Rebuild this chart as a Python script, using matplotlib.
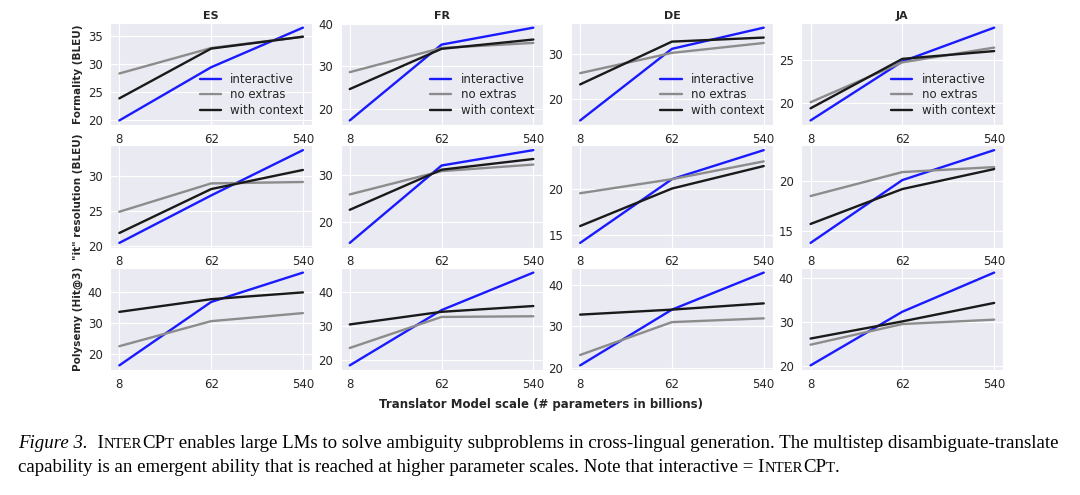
import matplotlib
matplotlib.use("Agg")
import matplotlib.pyplot as plt
import seaborn as sns

sns.set_style("darkgrid")
plt.rcParams['font.family'] = ['DejaVu Sans']

scales = ["8", "62", "540"]
languages = ["ES", "FR", "DE", "JA"]
metrics = ["Formality (BLEU)", '"it" resolution (BLEU)', "Polysemy (Hit@3)"]
series = ["interactive", "no extras", "with context"]
colors = {"interactive": "#1a1aff", "no extras": "#8c8c8c", "with context": "#1a1a1a"}

# values per metric -> series -> language (ES, FR, DE, JA), each at scales 8/62/540
formality = {
    "interactive":  [[20.0, 29.4, 36.4], [17.2, 35.1, 39.1], [15.2, 31.1, 35.8], [18.0, 24.8, 28.7]],
    "no extras":    [[28.3, 32.8, 34.8], [28.6, 34.3, 35.5], [25.7, 30.2, 32.4], [20.1, 24.7, 26.4]],
    "with context": [[23.9, 32.7, 34.8], [24.6, 34.1, 36.3], [23.2, 32.7, 33.6], [19.4, 25.1, 26.0]],
}
it_resolution = {
    "interactive":  [[20.5, 27.2, 33.6], [15.5, 32.1, 35.4], [14.2, 21.0, 24.1], [13.8, 20.1, 23.1]],
    "no extras":    [[24.9, 28.9, 29.1], [25.9, 30.9, 32.3], [19.5, 21.0, 22.9], [18.5, 20.9, 21.4]],
    "with context": [[21.9, 28.1, 30.8], [22.6, 31.2, 33.5], [16.0, 20.0, 22.4], [15.7, 19.2, 21.2]],
}
polysemy = {
    "interactive":  [[16.2, 36.7, 46.2], [18.5, 34.7, 45.7], [20.6, 34.0, 42.9], [20.1, 32.3, 41.2]],
    "no extras":    [[22.4, 30.5, 33.1], [23.6, 32.7, 32.9], [23.1, 31.0, 31.9], [24.8, 29.5, 30.5]],
    "with context": [[33.5, 37.6, 39.8], [30.5, 34.2, 35.9], [32.8, 34.0, 35.5], [26.2, 30.1, 34.3]],
}
all_data = [formality, it_resolution, polysemy]

fig, axes = plt.subplots(3, 4, figsize=(10.8, 4.95), dpi=100)
fig.subplots_adjust(left=0.102, right=0.929, top=0.9535, bottom=0.2525,
                    wspace=0.141, hspace=0.2)

for r, data in enumerate(all_data):
    for c, lang in enumerate(languages):
        ax = axes[r, c]
        for s in series:
            ax.plot(scales, data[s][c], color=colors[s], lw=1.7, label=s)
        ax.tick_params(labelsize=8.5, pad=2)
        if r == 0:
            ax.set_title(lang, fontsize=8, fontweight='bold', pad=3)
            ax.legend(loc='lower right', frameon=False, fontsize=8.5,
                      handlelength=1.8, labelspacing=0.2, borderaxespad=0.3)
        if c == 0:
            ax.set_ylabel(metrics[r], fontsize=7.5, fontweight='bold', labelpad=3)

fig.text(0.501, 0.182, "Translator Model scale (# parameters in billions)",
         ha='center', va='center', fontsize=8.5, fontweight='bold', color='.15')

# caption with small caps pieces
fig.canvas.draw()
renderer = fig.canvas.get_renderer()
big = 13.6
small = big * 0.78
caption_lines = [
    [("Figure 3.", big, 'italic'), ("  I", big, 'normal'), ("NTER", small, 'normal'),
     ("CP", big, 'normal'), ("T", small, 'normal'),
     (" enables large LMs to solve ambiguity subproblems in cross-lingual generation. "
      "The multistep disambiguate-translate", big, 'normal')],
    [("capability is an emergent ability that is reached at higher parameter scales. "
      "Note that interactive = I", big, 'normal'), ("NTER", small, 'normal'),
     ("CP", big, 'normal'), ("T", small, 'normal'), (".", big, 'normal')],
]
baselines = [495 - 448, 495 - 472]
for pieces, yb in zip(caption_lines, baselines):
    x = 18
    for txt, size, style in pieces:
        t = fig.text(x / 1080, yb / 495, txt, fontsize=size, style=style,
                     family='Liberation Serif', ha='left', va='baseline', color='black')
        bb = t.get_window_extent(renderer)
        x += bb.width

fig.savefig("out.png", dpi=100)
